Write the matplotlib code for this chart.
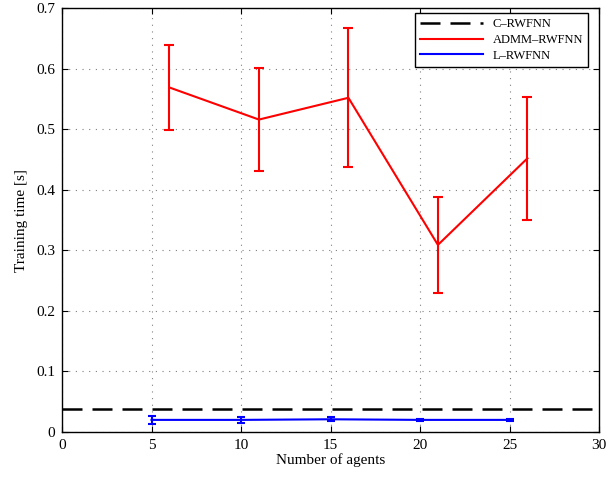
import matplotlib
matplotlib.use('Agg')
import matplotlib.pyplot as plt
from matplotlib.lines import Line2D

# data
c_time = 0.038

admm_agents = [6, 11, 16, 21, 26]
admm_time = [0.569, 0.516, 0.552, 0.309, 0.452]
admm_err = [0.070, 0.085, 0.115, 0.079, 0.102]

l_agents = [5, 10, 15, 20, 25]
l_time = [0.020, 0.020, 0.021, 0.020, 0.020]
l_err = [0.006, 0.005, 0.003, 0.002, 0.002]

plt.rcParams['font.family'] = ['Liberation Serif', 'DejaVu Serif']

fig = plt.figure(figsize=(6.14, 4.8), dpi=100)
ax = fig.add_axes([0.101, 0.1, 0.8746, 0.883])

ax.axhline(c_time, color='black', linestyle=(0, (8, 4)), linewidth=1.8)
ax.errorbar(admm_agents, admm_time, yerr=admm_err, color='red', linewidth=1.5,
            elinewidth=1.5, capsize=3.5, capthick=1.5)
ax.errorbar(l_agents, l_time, yerr=l_err, color='blue', linewidth=1.5,
            elinewidth=1.5, capsize=3, capthick=1.5)

ax.set_xlim(0, 30)
ax.set_ylim(0, 0.7)
ax.set_xticks(range(0, 31, 5))
ax.set_yticks([0, 0.1, 0.2, 0.3, 0.4, 0.5, 0.6, 0.7])
ax.set_yticklabels(['0', '0.1', '0.2', '0.3', '0.4', '0.5', '0.6', '0.7'])
ax.tick_params(direction='in', labelsize=11, top=True, right=True, length=4, pad=5)
ax.grid(True, linestyle=(0, (1, 5)), color='gray', linewidth=0.8)
for s in ax.spines.values():
    s.set_linewidth(1.0)

ax.set_xlabel('Number of agents', fontsize=11, labelpad=1)
ax.set_ylabel('Training time [s]', fontsize=11, labelpad=6)

handles = [
    Line2D([], [], color='black', linestyle=(0, (8, 4)), linewidth=1.8),
    Line2D([], [], color='red', linewidth=1.5),
    Line2D([], [], color='blue', linewidth=1.5),
]
labels = ['C–RWFNN', 'ADMM–RWFNN', 'L–RWFNN']
leg = ax.legend(handles, labels, loc='upper right', fontsize=9, fancybox=False, framealpha=1,
                edgecolor='black', handlelength=5.0, borderpad=0.4, labelspacing=0.3,
                bbox_to_anchor=(0.992, 1.003))
leg.get_frame().set_linewidth(1.0)

fig.savefig('out.png', dpi=100)
